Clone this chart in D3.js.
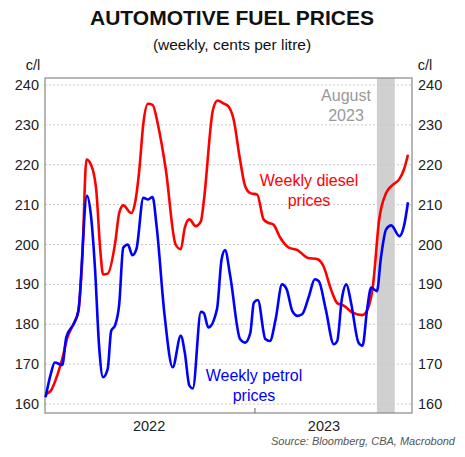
<!DOCTYPE html>
<html><head><meta charset="utf-8">
<script src="https://cdn.jsdelivr.net/npm/d3@7"></script>
<style>body{margin:0;background:#fff}text{font-family:"Liberation Sans",Arial,sans-serif}</style>
</head><body>
<svg id="chart" width="465" height="457"></svg>
<script>
//months since 1 Jan 2022
var petrolMonths = [0.04,0.33,0.57,1.0,1.23,1.67,1.92,2.39,2.62,2.87,3.1,3.33,3.58,3.77,4.02,4.25,4.48,4.73,4.98,5.21,5.63,5.88,6.13,6.36,6.84,7.28,7.74,7.99,8.24,8.43,8.89,9.08,9.33,9.81,10.1,10.29,10.57,11.15,11.44,11.72,11.91,12.14,12.59,12.83,13.16,13.54,13.79,14.12,14.41,14.69,15.08,15.4,15.65,16.03,16.48,16.7,16.94,17.22,17.47,17.89,18.14,18.39,18.62,18.97,19.2,19.48,19.77,20.25,20.5,20.73];
var petrolPrices = [161.7,167.5,170.4,169.8,176.7,180.4,183.3,212.2,207.1,193.8,174.6,166.7,168.8,178.3,179.8,185,199.2,200,197.3,198.9,211.7,211.3,211.9,204.6,182.1,169.2,177.1,172.9,164.6,163.9,183.1,182.8,179.2,183.8,196.3,198.6,192.1,176.3,175.4,177.9,185.4,186.1,176.3,175.8,181.3,190,188.8,183.3,182.1,182.5,187.1,191.3,190.8,183.8,175,175.8,186.3,190,185.4,175.4,174.6,183.8,189.2,188.3,196.7,203.8,204.8,202.1,204.6,210.6];
var dieselMonths = [0.04,0.33,0.71,1.0,1.28,1.57,1.92,2.14,2.38,2.62,2.91,3.14,3.33,3.58,4.02,4.25,4.48,4.92,5.17,5.4,5.63,5.88,6.13,6.46,6.9,7.47,7.74,7.99,8.24,8.62,8.89,9.08,9.58,9.85,10.19,10.48,10.76,11.15,11.44,11.72,12.11,12.49,12.78,13.03,13.45,13.93,14.41,14.98,15.56,15.9,16.32,16.7,17.09,17.57,18.14,18.43,18.72,19.1,19.48,19.87,20.25,20.5,20.73];
var dieselPrices = [162.5,163.3,167.5,171.3,176.7,179.6,183.3,197.1,221.3,220,213.8,198.8,192.5,192.7,200.4,207.9,209.8,207.9,210.8,218.8,230.4,235.3,235,229.6,218.8,200,198.8,204.2,206.3,204.6,205.8,210.8,233.8,236.1,235.4,234.6,231.3,221.3,214.6,212.9,212.5,206.3,205.4,205,201.7,199.2,198.6,196.7,196.3,194.6,188.8,185.3,184.6,182.9,182.3,183.8,189.6,206.3,212.9,215,216.4,218.8,222.5];
var yTicks = [160,170,180,190,200,210,220,230,240];
var yearLabels = ["2022","2023"];

var svg = d3.select("#chart");
var m = {l:45, r:412, t:78, b:413};
var start = new Date(2022,0,1);
function toDate(mo){ return d3.timeDay.offset(start, Math.round(mo*30.44)); }

var x = d3.scaleTime().domain([start, new Date(2023,9,1)]).range([m.l, m.r]);
var y = d3.scaleLinear().domain([160,240]).range([404,85]);

//August 2023 shading
svg.append("rect").attr("x", x(new Date(2023,7,1))).attr("y", m.t)
  .attr("width", x(new Date(2023,8,1)) - x(new Date(2023,7,1))).attr("height", m.b-m.t)
  .attr("fill", "#d0d0d0");

//gridlines
svg.selectAll(".grid").data(yTicks).enter().append("line")
  .attr("x1", m.l).attr("x2", m.r).attr("y1", d=>y(d)).attr("y2", d=>y(d))
  .attr("stroke", "#c8c8c8").attr("stroke-dasharray", "2,2");

//frame
svg.append("rect").attr("x", m.l).attr("y", m.t).attr("width", m.r-m.l).attr("height", m.b-m.t)
  .attr("fill", "none").attr("stroke", "#888").attr("stroke-width", 1.2);

//axes labels
[["end", m.l-6], ["start", m.r+6]].forEach(function(s){
  svg.selectAll(null).data(yTicks).enter().append("text")
    .attr("x", s[1]).attr("y", d=>y(d)+5).attr("text-anchor", s[0])
    .attr("font-size", 14.5).attr("fill", "#222").text(d=>d);
});
svg.append("text").attr("x", 33).attr("y", 70).attr("text-anchor","middle").attr("font-size",14.5).attr("fill","#222").text("c/l");
svg.append("text").attr("x", 425).attr("y", 70).attr("text-anchor","middle").attr("font-size",14.5).attr("fill","#222").text("c/l");

var yb = x(new Date(2023,0,1));
svg.append("line").attr("x1", yb).attr("x2", yb).attr("y1", m.b).attr("y2", m.b-5).attr("stroke","#666");
svg.selectAll(null).data(yearLabels).enter().append("text")
  .attr("x", (d,i)=> i==0 ? (x(new Date(2022,6,1))) : x(new Date(2023,4,1)))
  .attr("y", 431).attr("text-anchor","middle").attr("font-size",14.5).attr("fill","#222").text(d=>d);

//lines
var line = d3.line().x(d=>x(toDate(d[0]))).y(d=>y(d[1])).curve(d3.curveMonotoneX);
svg.append("path").datum(d3.zip(dieselMonths, dieselPrices)).attr("d", line)
  .attr("fill","none").attr("stroke","#ff0000").attr("stroke-width",2.6);
svg.append("path").datum(d3.zip(petrolMonths, petrolPrices)).attr("d", line)
  .attr("fill","none").attr("stroke","#0000ff").attr("stroke-width",2.6);

//annotations
function label(lines, cx, cy, col){
  lines.forEach(function(t,i){
    svg.append("text").attr("x", cx).attr("y", cy+i*20).attr("text-anchor","middle")
      .attr("font-size",16).attr("fill",col).text(t);
  });
}
label(["August","2023"], 346, 101, "#999");
label(["Weekly diesel","prices"], 309, 186, "#ff0000");
label(["Weekly petrol","prices"], 254, 381, "#0000ff");

//titles
svg.append("text").attr("x", 232).attr("y", 25).attr("text-anchor","middle")
  .attr("font-size", 21).attr("font-weight","bold").attr("fill","#111").text("AUTOMOTIVE FUEL PRICES");
svg.append("text").attr("x", 232).attr("y", 50).attr("text-anchor","middle")
  .attr("font-size", 15.5).attr("fill","#111").text("(weekly, cents per litre)");
svg.append("text").attr("x", 455).attr("y", 445).attr("text-anchor","end")
  .attr("font-size", 11).attr("font-style","italic").attr("fill","#555").text("Source: Bloomberg, CBA, Macrobond");
</script>
</body></html>
